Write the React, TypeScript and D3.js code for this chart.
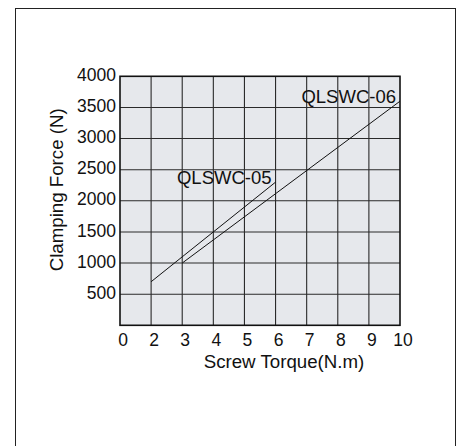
import React from "react";
import * as d3 from "d3";

const xTicks = [0, 2, 3, 4, 5, 6, 7, 8, 9, 10];
const yTicks = [500, 1000, 1500, 2000, 2500, 3000, 3500, 4000];
const xGrid = [2, 3, 4, 5, 6, 7, 8, 9];
const yGrid = [500, 1000, 1500, 2000, 2500, 3000, 3500];

const seriesNames = ["QLSWC-05", "QLSWC-06"];
const qlswc05 = [
  { torque: 2, force: 700 },
  { torque: 6, force: 2300 },
];
const qlswc06 = [
  { torque: 3, force: 1000 },
  { torque: 10, force: 3600 },
];

const xTitle = "Screw Torque(N.m)";
const yTitle = "Clamping Force (N)";

const W = 460;
const H = 446;
const left = 120;
const right = 400;
const top = 76.3;
const bottom = 325.3;
const FONT = "'Liberation Sans', Arial, Helvetica, sans-serif";

export default function App() {
  const step = (right - left) / 9;
  const x = d3.scaleLinear().domain([0, 2, 10]).range([left, left + step, right]);
  const y = d3.scaleLinear().domain([0, 4000]).range([bottom, top]);
  const line = d3
    .line<{ torque: number; force: number }>()
    .x((d) => x(d.torque))
    .y((d) => y(d.force));
  const series = [qlswc05, qlswc06];

  return (
    <svg
      width={W}
      height={H}
      style={{ position: "absolute", left: 0, top: 0, background: "#fff" }}
      fontFamily={FONT}
    >
      <rect x={15.5} y={8.5} width={440} height={460} fill="#fff" stroke="#222" strokeWidth={1} />
      <rect x={left} y={top} width={right - left} height={bottom - top} fill="#e6e8ec" />
      {xGrid.map((v) => (
        <line key={"vx" + v} x1={x(v)} x2={x(v)} y1={top} y2={bottom} stroke="#2a2a2a" strokeWidth={1.1} />
      ))}
      {yGrid.map((v) => (
        <line key={"hy" + v} x1={left} x2={right} y1={y(v)} y2={y(v)} stroke="#2a2a2a" strokeWidth={1.1} />
      ))}
      <rect x={left} y={top} width={right - left} height={bottom - top} fill="none" stroke="#111" strokeWidth={1.6} />
      {series.map((s, i) => (
        <path key={"s" + i} d={line(s) || ""} fill="none" stroke="#111" strokeWidth={1} />
      ))}
      {series.map((s, i) => {
        const last = s[s.length - 1];
        return (
          <text
            key={"lbl" + i}
            x={x(last.torque) - 4}
            y={y(last.force) + 1.5}
            textAnchor="end"
            fontSize={18.5}
            fill="#111"
          >
            {seriesNames[i]}
          </text>
        );
      })}
      {yTicks.map((v) => (
        <text key={"yt" + v} x={left - 4} y={y(v) + 4.6} textAnchor="end" fontSize={17.5} fill="#111">
          {v}
        </text>
      ))}
      {xTicks.map((v) => (
        <text key={"xt" + v} x={x(v) + 3} y={346} textAnchor="middle" fontSize={17.5} fill="#111">
          {v}
        </text>
      ))}
      <text x={284} y={368} textAnchor="middle" fontSize={18.7} fill="#111">
        {xTitle}
      </text>
      <text
        transform={`translate(63, ${(top + bottom) / 2 - 11}) rotate(-90)`}
        textAnchor="middle"
        fontSize={18.7}
        fill="#111"
      >
        {yTitle}
      </text>
    </svg>
  );
}
